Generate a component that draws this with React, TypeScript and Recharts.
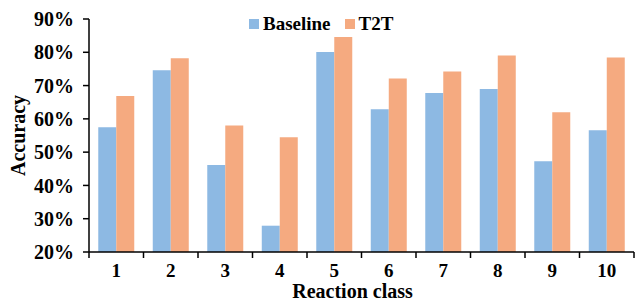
import React from 'react';
import { BarChart, Bar, XAxis, YAxis } from 'recharts';

const classes = ['1', '2', '3', '4', '5', '6', '7', '8', '9', '10'];
const baseline = [57.5, 74.6, 46.1, 27.9, 80.1, 62.9, 67.8, 69.0, 47.3, 56.6];
const t2t = [66.9, 78.2, 58.0, 54.5, 84.6, 72.1, 74.2, 79.0, 62.0, 78.4];
const yTicks = [20, 30, 40, 50, 60, 70, 80, 90];
const seriesNames = ['Baseline', 'T2T'];

const BLUE = '#8DB9E3';
const ORANGE = '#F5AA80';
const FONT = '"Liberation Serif", "Times New Roman", serif';

const data = classes.map((c, i) => ({ name: c, baseline: baseline[i], t2t: t2t[i] }));

const ClassTick = (props: any) => {
  const { x, y, payload, index, visibleTicksCount } = props;
  const half = payload.offset || 27.25;
  const axisY = y - 12;
  return (
    <g>
      <line x1={x - half} x2={x - half} y1={axisY} y2={axisY + 6} stroke="#000" strokeWidth={1.5} />
      {index === (visibleTicksCount ?? classes.length) - 1 && (
        <line x1={x + half} x2={x + half} y1={axisY} y2={axisY + 6} stroke="#000" strokeWidth={1.5} />
      )}
      <text x={x} y={y} dy="0.71em" textAnchor="middle" fontFamily={FONT} fontWeight="bold" fontSize={19} fill="#000">
        {payload.value}
      </text>
    </g>
  );
};

const LegendBox = () => (
  <div style={{ position: 'absolute', top: 13, left: 249, display: 'flex', alignItems: 'center', fontFamily: FONT, fontWeight: 'bold', fontSize: 19, color: '#000', lineHeight: '22px' }}>
    <span style={{ width: 10, height: 10, background: BLUE, display: 'inline-block', marginRight: 4 }} />
    <span style={{ marginRight: 14 }}>{seriesNames[0]}</span>
    <span style={{ width: 10, height: 10, background: ORANGE, display: 'inline-block', marginRight: 4 }} />
    <span>{seriesNames[1]}</span>
  </div>
);

export default function App() {
  return (
    <div style={{ position: 'absolute', left: 0, top: 0, width: 636, height: 302, background: '#fff' }}>
      <BarChart width={636} height={302} data={data} margin={{ top: 19, right: 2, left: 0, bottom: 0 }} barCategoryGap="17%" barGap={0}>
        <XAxis
          dataKey="name"
          height={50}
          tickLine={false}
          tickSize={6}
          tickMargin={6}
          axisLine={{ stroke: '#000', strokeWidth: 1.5 }}
          tick={<ClassTick />}
          interval={0}
          label={({ viewBox }: any) => (
            <text x={viewBox.x + viewBox.width / 2 - 9} y={viewBox.y + 46} textAnchor="middle" fontFamily={FONT} fontWeight="bold" fontSize={20} fill="#000">
              Reaction class
            </text>
          )}
        />
        <YAxis
          width={89}
          domain={[20, 90]}
          ticks={yTicks}
          tickFormatter={(v) => `${v}%`}
          tickSize={6}
          tickMargin={9}
          axisLine={{ stroke: '#000', strokeWidth: 1.5 }}
          tickLine={{ stroke: '#000', strokeWidth: 1.5 }}
          tick={{ fill: '#000', fontFamily: FONT, fontWeight: 'bold', fontSize: 20 }}
          label={({ viewBox }: any) => (
            <text x={18} y={viewBox.y + viewBox.height / 2} transform={`rotate(-90, 18, ${viewBox.y + viewBox.height / 2})`} textAnchor="middle" dominantBaseline="central" fontFamily={FONT} fontWeight="bold" fontSize={20} fill="#000">
              Accuracy
            </text>
          )}
        />
        <Bar dataKey="baseline" name={seriesNames[0]} fill={BLUE} isAnimationActive={false} />
        <Bar dataKey="t2t" name={seriesNames[1]} fill={ORANGE} isAnimationActive={false} />
      </BarChart>
      <LegendBox />
    </div>
  );
}
